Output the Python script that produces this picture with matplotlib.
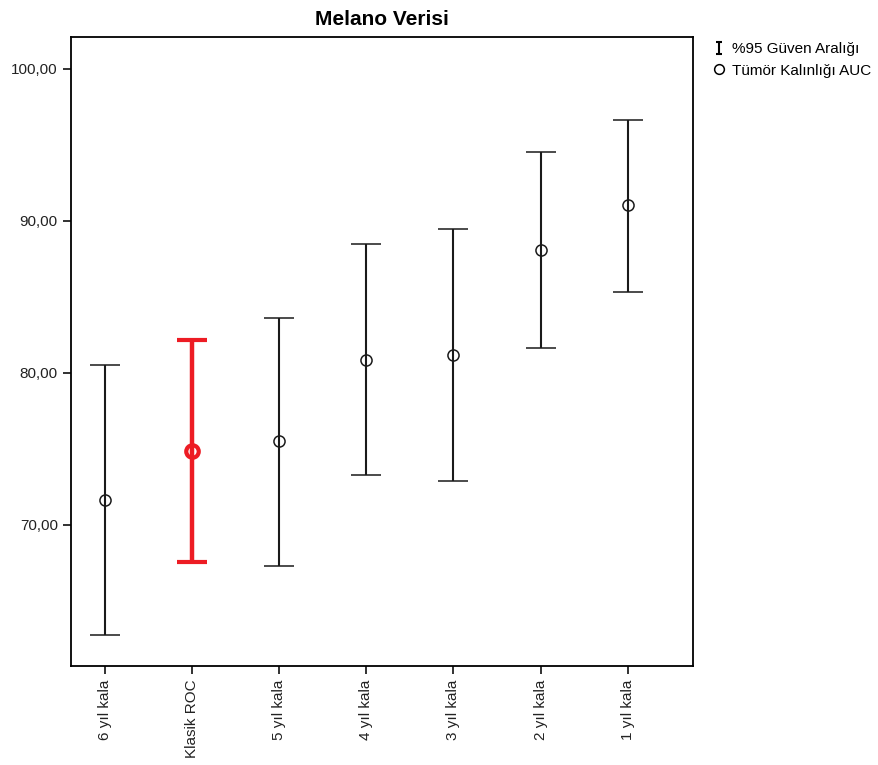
import matplotlib.pyplot as plt
from matplotlib.lines import Line2D
from matplotlib.path import Path
from matplotlib.ticker import FuncFormatter

plt.rcParams['font.family'] = ['Liberation Sans', 'DejaVu Sans']

labels = ['6 yıl kala', 'Klasik ROC', '5 yıl kala', '4 yıl kala', '3 yıl kala', '2 yıl kala', '1 yıl kala']
auc = [71.65, 74.87, 75.53, 80.86, 81.18, 88.09, 91.05]
lower = [62.76, 67.57, 67.30, 73.29, 72.89, 81.64, 85.33]
upper = [80.53, 82.17, 83.62, 88.49, 89.47, 94.54, 96.64]
highlight = 'Klasik ROC'

fig = plt.figure(figsize=(8.79, 7.65), dpi=100)
ax = fig.add_axes([0.0808, 0.1294, 0.7072, 0.8222])

for i, lab in enumerate(labels):
    err = [[auc[i] - lower[i]], [upper[i] - auc[i]]]
    if lab == highlight:
        ax.errorbar(i, auc[i], yerr=err, fmt='o', color='#ED1C24', mfc='none',
                    mec='#ED1C24', ms=9, mew=3, elinewidth=3.2, capsize=10.5, capthick=3.2)
    else:
        ax.errorbar(i, auc[i], yerr=err, fmt='o', color='#1a1a1a', mfc='none',
                    mec='#1a1a1a', ms=8, mew=1.1, elinewidth=1.5, capsize=10.5, capthick=1.5)

ax.set_xlim(-0.39, 6.745)
ax.set_ylim(60.72, 102.1)
ax.set_xticks(range(len(labels)))
ax.set_xticklabels(labels, rotation=90, fontsize=11)
ax.set_yticks([70, 80, 90, 100])
ax.yaxis.set_major_formatter(FuncFormatter(lambda v, p: f'{v:.2f}'.replace('.', ',')))
ax.tick_params(axis='both', direction='out', length=6, width=1.3, labelsize=11, colors='#222222')
for s in ax.spines.values():
    s.set_linewidth(1.3)

ax.set_title('Melano Verisi', fontsize=15, fontweight='bold', pad=9)

# "I" shaped marker for the confidence interval legend entry
i_marker = Path([(-0.5, 1), (0.5, 1), (0, 1), (0, -1), (-0.5, -1), (0.5, -1)],
                [Path.MOVETO, Path.LINETO, Path.MOVETO, Path.LINETO, Path.MOVETO, Path.LINETO])
handles = [
    Line2D([], [], linestyle='none', marker=i_marker, mfc='none', mec='black', ms=8, mew=1.5),
    Line2D([], [], linestyle='none', marker='o', mfc='none', mec='black', ms=7, mew=1.1),
]
fig.legend(handles, ['%95 Güven Aralığı', 'Tümör Kalınlığı AUC'], loc='upper left',
           bbox_to_anchor=(0.806, 0.953), frameon=False, fontsize=11,
           handlelength=0.6, handletextpad=0.55, labelspacing=0.5, borderaxespad=0)

fig.savefig('out.png', dpi=100)
